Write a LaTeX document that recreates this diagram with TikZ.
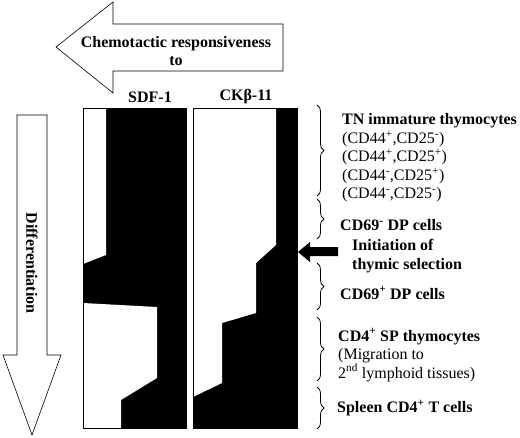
\documentclass[tikz,border=0pt]{standalone}
\usepackage{fontspec}
\setmainfont{Liberation Serif}
\usetikzlibrary{decorations.pathreplacing}

\tikzset{
    lab/.style={font=\fontsize{16}{18.5}\selectfont\bfseries, inner sep=0pt},
    txt/.style={font=\fontsize{16}{18.5}\selectfont, inner sep=0pt, align=left, anchor=west},
    btxt/.style={txt, font=\fontsize{16}{18.5}\selectfont\bfseries},
    brc/.style={decorate, decoration={brace, amplitude=7pt}, line width=0.8pt},
    blockarrow/.style={draw=black, line width=0.6pt, fill=white}
}

\begin{document}
\begin{tikzpicture}[x=1pt, y=-1pt]

    \useasboundingbox (0,0) rectangle (520,437);

    \draw[blockarrow] (56,47) -- (113,2) -- (113,24) -- (283,24) -- (283,71) -- (113,71) -- (113,93) -- cycle;
    \node (chemo) [lab, align=center] at (176,51) {Chemotactic responsiveness\\to};

    \draw[blockarrow] (17,115) -- (47,115) -- (47,355) -- (61,355) -- (32,435) -- (3,355) -- (17,355) -- cycle;
    \node (diff) [lab, rotate=-90] at (32,263) {Differentiation};

    \node (sdf) [lab] at (150,97) {SDF-1};
    \node (ckb) [lab] at (246,97) {CKβ-11};

    % SDF-1
    \fill[black] (83,108) rectangle (186,428);
    \fill[white] (83,108) -- (106,108) -- (106,255) -- (83,264) -- cycle;
    \fill[white] (83,303) -- (157,307) -- (157,378) -- (121,400) -- (121,428) -- (83,428) -- cycle;
    \draw[line width=0.6pt] (83,108) rectangle (186,428);

    % CKb-11
    \fill[black] (193,108) rectangle (297,428);
    \fill[white] (193,108) -- (276,108) -- (276,245) -- (256,263) -- (256,313) -- (222,323) -- (222,383) -- (193,397) -- cycle;
    \draw[line width=0.6pt] (193,108) rectangle (297,428);

    \fill[black] (298,252) -- (310,242) -- (310,247) -- (338,247) -- (338,256) -- (310,256) -- (310,262) -- cycle;

    \coordinate (b1a) at (317,105);
    \coordinate (b1b) at (317,196);
    \coordinate (b2a) at (317,199);
    \coordinate (b2b) at (317,239);
    \coordinate (b3a) at (317,263);
    \coordinate (b3b) at (317,310);
    \coordinate (b4a) at (317,317);
    \coordinate (b4b) at (317,381);
    \coordinate (b5a) at (317,387);
    \coordinate (b5b) at (317,429);

    \draw[brc] (b1a) -- (b1b);
    \draw[brc] (b2a) -- (b2b);
    \draw[brc] (b3a) -- (b3b);
    \draw[brc] (b4a) -- (b4b);
    \draw[brc] (b5a) -- (b5b);

    \node (tn) [txt] at (342,158) {\textbf{TN immature thymocytes}\\
        (CD44\textsuperscript{+},CD25\textsuperscript{-})\\
        (CD44\textsuperscript{+},CD25\textsuperscript{+})\\
        (CD44\textsuperscript{-},CD25\textsuperscript{+})\\
        (CD44\textsuperscript{-},CD25\textsuperscript{-})};
    \node (dpneg) [btxt] at (340,225) {CD69\textsuperscript{-} DP cells};
    \node (init) [btxt] at (352,256) {Initiation of\\thymic selection};
    \node (dppos) [btxt] at (340,293) {CD69\textsuperscript{+} DP cells};
    \node (sp) [txt] at (338,355) {\textbf{CD4\textsuperscript{+} SP thymocytes}\\
        (Migration to\\
        2\textsuperscript{nd} lymphoid tissues)};
    \node (spleen) [btxt] at (337,408) {Spleen CD4\textsuperscript{+} T cells};

\end{tikzpicture}
\end{document}
